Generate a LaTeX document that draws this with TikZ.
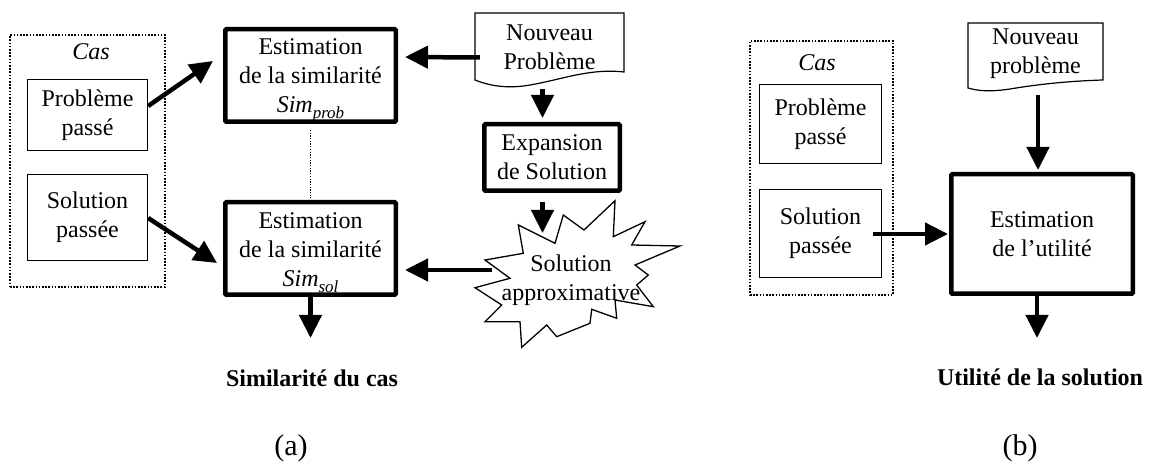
\documentclass[tikz,border=0pt]{standalone}
\usepackage{fontspec}
\setmainfont{Liberation Serif}
\usetikzlibrary{arrows.meta}
\newcommand{\subtxt}[1]{\raisebox{-6pt}{\fontsize{17}{17}\selectfont\itshape #1}}
\begin{document}
\begin{tikzpicture}[x=1pt,y=-1pt,
  every node/.style={font=\fontsize{24}{29}\selectfont, align=center, inner sep=0pt},
  tbox/.style={draw, line width=1.3pt},
  kbox/.style={draw, line width=4.5pt, rounded corners=1pt},
  dotbox/.style={draw, line width=1.6pt, dash pattern=on 1.6pt off 1.6pt},
  dotline/.style={line width=1.3pt, dash pattern=on 1.3pt off 1.4pt},
  docline/.style={draw, line width=1.2pt, fill=white},
  arr/.style={line width=4.5pt, -{Triangle[length=23pt,width=22pt]}},
  lbl/.style={font=\fontsize{24}{28}\selectfont\bfseries},
  itl/.style={font=\fontsize{24}{28}\selectfont\itshape},
  captxt/.style={font=\fontsize{30}{34}\selectfont}
]
\useasboundingbox (0,0) rectangle (1149,462);

% ---------- (a) ----------
\node[dotbox, minimum width=155pt, minimum height=252pt] (casA) at (87.5,161) {};
\node[itl] (casAt) at (91,52) {Cas};
\node[tbox, minimum width=120pt, minimum height=71pt] (ppA) at (87.5,115) {Problème\\passé};
\node[tbox, minimum width=120pt, minimum height=86pt] (spA) at (87.5,217.5) {Solution\\passée};

\node[kbox, minimum width=170.5pt, minimum height=92.5pt] (simp) at (310.5,75.5) {};
\node (simpt) at (310.5,80)
  {Estimation\\de la similarité\\\textit{Sim}\subtxt{prob}};
\node[kbox, minimum width=170.5pt, minimum height=92.5pt] (sims) at (310.5,248.5) {};
\node (simst) at (310.5,253)
  {Estimation\\de la similarité\\\textit{Sim}\subtxt{sol}};
\draw[dotline] ([yshift=-6pt]simp.south) -- ([yshift=2pt]sims.north);

% Nouveau Probleme (document shape)
\draw[docline] (475,13) -- (624,13) -- (624,72)
  .. controls (590,68) and (560,80) .. (530,85)
  .. controls (508,89) and (490,86) .. (475,80) -- cycle;
\node[minimum width=149pt, minimum height=67pt] (npA) at (549.5,47) {Nouveau\\Problème};

\node[kbox, minimum width=135.5pt, minimum height=66.5pt] (exp) at (552,157.5) {Expansion\\de Solution};

% star
\draw[line width=1.3pt, fill=white, line join=miter]
  (518.3,225) -- (555,243.3) -- (563.3,215) -- (584,230) -- (615,200.7)
  -- (613.3,236.7) -- (645,221.7) -- (631.7,245) -- (680,246) -- (635,265)
  -- (648.3,275) -- (636.7,285) -- (653.3,306.7) -- (615,300) -- (616.7,318.3)
  -- (591.7,309.3) -- (590,323.3) -- (556.7,336.7) -- (546.7,325) -- (521.7,347.3)
  -- (520,321.7) -- (485,321.7) -- (501.7,305) -- (475,287.7) -- (510,278.3)
  -- (485,260) -- (523.3,253.3) -- cycle;
\node (star) at (571,280) {Solution\\approximative};
\coordinate (starTop) at (542.5,233);
\coordinate (starL) at (492,270);

\draw[arr] ([yshift=9pt]ppA.east) -- ([xshift=-10pt,yshift=14.5pt]simp.west);
\draw[arr] ([yshift=-0.5pt]spA.east) -- ([xshift=-6pt,yshift=-14.5pt]sims.west);
\draw[arr] ([xshift=5pt,yshift=-10.5pt]npA.west) -- ([xshift=7pt,yshift=18.5pt]simp.east);
\draw[arr] ([xshift=-7pt,yshift=-8pt]npA.south) -- ([xshift=-9.5pt,yshift=4pt]exp.north);
\draw[arr] ([xshift=-9.5pt,yshift=-9pt]exp.south) -- (starTop);
\draw[arr] (starL) -- ([xshift=7pt,yshift=-21.5pt]sims.east);
\coordinate (outA) at (310.5,338);
\draw[arr] (sims.south) -- (outA);
\node[lbl] (resA) at (312,378) {Similarité du cas};
\node[captxt] (capA) at (291,448) {(a)};

% ---------- (b) ----------
\node[dotbox, minimum width=143pt, minimum height=254pt] (casB) at (821.5,168) {};
\node[itl] (casBt) at (817,63) {Cas};
\node[tbox, minimum width=122pt, minimum height=79pt] (ppB) at (820.5,124) {Problème\\passé};
\node[tbox, minimum width=122pt, minimum height=88pt] (spB) at (820.5,233.5) {Solution\\passée};
\node[kbox, minimum width=181.5pt, minimum height=119.5pt] (eu) at (1042,234) {Estimation\\de l’utilité};

\draw[docline] (968,23) -- (1103,23) -- (1103,80)
  .. controls (1070,81) and (1040,84) .. (1010,89)
  .. controls (990,92) and (978,91) .. (968,88) -- cycle;
\node[minimum width=135pt, minimum height=60pt] (npB) at (1035.5,54) {Nouveau\\problème};

\draw[arr] ([xshift=2.5pt,yshift=-11pt]npB.south) -- ([xshift=-4pt,yshift=2pt]eu.north);
\draw[arr] ([xshift=-9pt,yshift=-0.5pt]spB.east) -- ([xshift=-1pt]eu.west);
\coordinate (outB) at (1037,338);
\draw[arr] ([xshift=-5pt]eu.south) -- (outB);
\node[lbl] (resB) at (1040,377) {Utilité de la solution};
\node[captxt] (capB) at (1020,448) {(b)};
\end{tikzpicture}
\end{document}
